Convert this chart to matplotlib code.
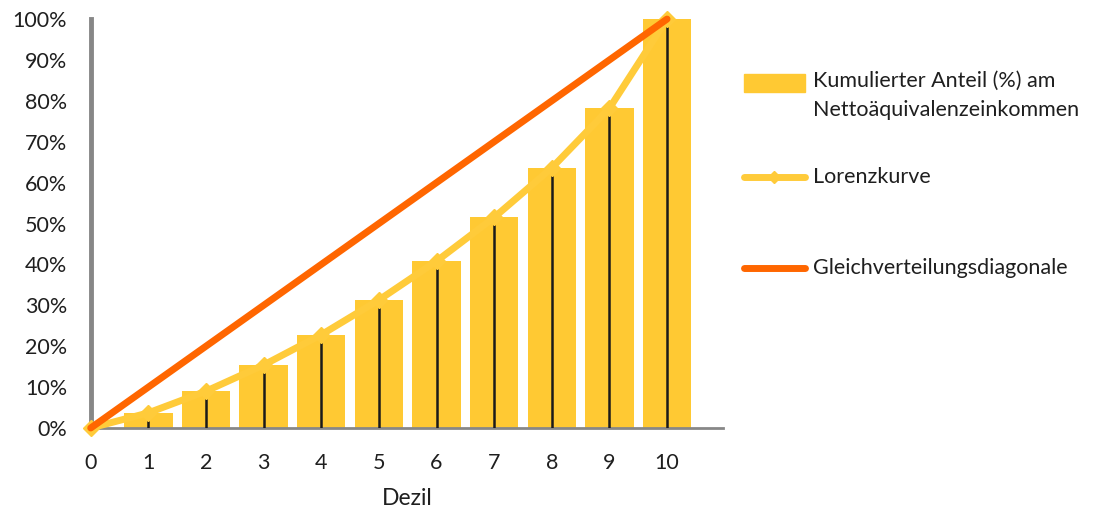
import numpy as np
import matplotlib
matplotlib.use("Agg")
import matplotlib.pyplot as plt
import matplotlib.patches as mpatches
from matplotlib.lines import Line2D
from matplotlib.ticker import PercentFormatter

plt.rcParams['font.family'] = ['Lato', 'DejaVu Sans']

# data
dezil = [0, 1, 2, 3, 4, 5, 6, 7, 8, 9, 10]
anteil = [0.0, 3.7, 9.0, 15.4, 22.8, 31.3, 40.8, 51.5, 63.6, 78.2, 100.0]  # cumulative share in %
gleich = [0, 100]
labels = ['Kumulierter Anteil (%) am\nNettoäquivalenzeinkommen', 'Lorenzkurve',
          'Gleichverteilungsdiagonale']

bar_col = '#FFC933'
line_col = '#FFCB3A'
diag_col = '#FF6600'
text_col = '#1f1f1f'

fig = plt.figure(figsize=(11.2, 5.08), dpi=100)
ax = fig.add_axes([0.081, 0.1575, 0.5645, 0.805])

anteil_f = [a / 100 for a in anteil]

# bars for deciles 1..10
ax.bar(dezil[1:], anteil_f[1:], width=0.84, color=bar_col, zorder=2)

# black drop lines
ax.vlines(dezil, 0, anteil_f, color='#1a1a1a', lw=1.8, zorder=3)

# Lorenz curve
ax.plot(dezil, anteil_f, color=line_col, lw=5, marker='D', ms=8.5,
        mec=line_col, mfc=line_col, zorder=4, clip_on=False, solid_capstyle='round')

# diagonal
ax.plot([dezil[0], dezil[-1]], [g / 100 for g in gleich], color=diag_col, lw=5,
        zorder=5, clip_on=False, solid_capstyle='round')

ax.set_xlim(0, 10.97)
ax.set_ylim(0, 1)
ax.set_xticks(dezil)
ax.set_yticks(np.arange(0, 1.01, 0.1))
ax.yaxis.set_major_formatter(PercentFormatter(1.0, decimals=0))
ax.tick_params(length=0, labelsize=15.5, colors=text_col)
ax.tick_params(axis='y', pad=17)
ax.tick_params(axis='x', pad=18)
ax.set_xlabel('Dezil', fontsize=16.5, color=text_col, labelpad=11)

for s in ['top', 'right']:
    ax.spines[s].set_visible(False)
ax.spines['left'].set_color('#878787')
ax.spines['left'].set_linewidth(3.5)
ax.spines['bottom'].set_color('#878787')
ax.spines['bottom'].set_linewidth(2)
ax.spines['left'].set_zorder(1)

# legend, placed by hand
x0, x1, xt = 0.664, 0.719, 0.726
rows = [1 - 83 / 508, 1 - 177 / 508, 1 - 268 / 508]
fig.patches.append(mpatches.Rectangle((x0, rows[0] - 0.017), x1 - x0, 0.034,
                                      transform=fig.transFigure, color=bar_col))
fig.lines.append(Line2D([x0, x1], [rows[1]] * 2, transform=fig.transFigure, color=line_col,
                        lw=5, solid_capstyle='round'))
fig.lines.append(Line2D([(x0 + x1) / 2], [rows[1]], transform=fig.transFigure, color=line_col,
                        marker='D', ms=6, lw=0))
fig.lines.append(Line2D([x0, x1], [rows[2]] * 2, transform=fig.transFigure, color=diag_col,
                        lw=5, solid_capstyle='round'))
fig.text(xt, rows[0] + 0.024, labels[0], fontsize=15.5, color=text_col, va='top',
         linespacing=1.55)
fig.text(xt, rows[1], labels[1], fontsize=15.5, color=text_col, va='center')
fig.text(xt, rows[2], labels[2], fontsize=15.5, color=text_col, va='center')

fig.savefig('out.png', dpi=100)
